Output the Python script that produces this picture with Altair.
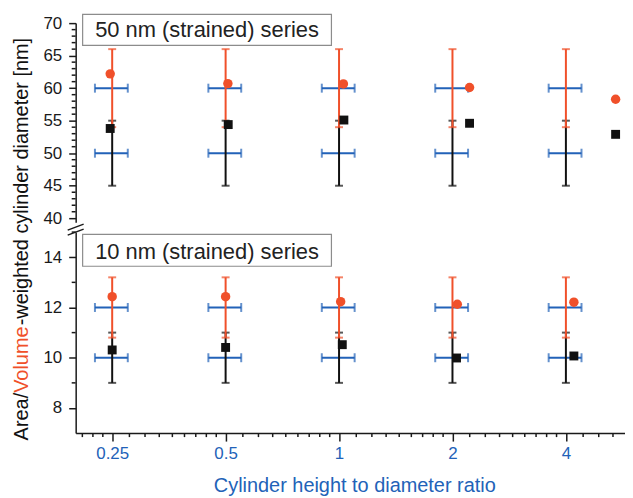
import altair as alt
import pandas as pd

# ---------------- data ----------------
ratio = [0.25, 0.5, 1, 2, 4]                 # nominal height/diameter ratio
ratio_lo = [0.225, 0.45, 0.9, 1.8, 3.6]      # blue horizontal bar ends
ratio_hi = [0.275, 0.55, 1.1, 2.2, 4.4]

# 50 nm (strained) series
s50_vol_x = [0.247, 0.507, 1.027, 2.22, 5.42]
s50_vol_y = [62.2, 60.7, 60.65, 60.1, 58.3]
s50_area_x = [0.247, 0.508, 1.03, 2.22, 5.42]
s50_area_y = [53.8, 54.4, 55.1, 54.6, 52.9]
s50_vol_lo = [54, 54, 54, 54, 54]
s50_vol_hi = [66, 66, 66, 66, 66]
s50_area_lo = [45, 45, 45, 45, 45]
s50_area_hi = [55, 55, 55, 55, 55]
s50_nominal = [60, 50]

# 10 nm (strained) series
s10_vol_x = [0.25, 0.5, 1.01, 2.06, 4.2]
s10_vol_y = [12.43, 12.43, 12.23, 12.13, 12.21]
s10_area_x = [0.25, 0.5, 1.02, 2.05, 4.2]
s10_area_y = [10.31, 10.41, 10.52, 9.99, 10.07]
s10_vol_lo = [10.8, 10.8, 10.8, 10.8, 10.8]
s10_vol_hi = [13.2, 13.2, 13.2, 13.2, 13.2]
s10_area_lo = [9, 9, 9, 9, 9]
s10_area_hi = [11, 11, 11, 11, 11]
s10_nominal = [12, 10]

x_ticks = [0.25, 0.5, 1, 2, 4]
top_yticks = [40, 45, 50, 55, 60, 65, 70]
bot_yticks = [8, 10, 12, 14]

# ---------------- style ----------------
RED = "#F0502A"
BLUE = "#2262B8"
BLACK = "#111111"
AX = "#1a1a1a"
FONT = "Liberation Sans"
W = 552
H_TOP = 200
H_BOT = 202
X_DOMAIN = [0.2, 5.74]

xscale = alt.Scale(type="log", base=2, domain=X_DOMAIN, nice=False)

x_minor = [m * (1 + k / 9) for m in [0.125, 0.25, 0.5, 1, 2, 4] for k in range(1, 9)]
x_minor = [v for v in x_minor if X_DOMAIN[0] <= v <= X_DOMAIN[1]]


def panel(vol_x, vol_y, area_x, area_y, vol_lo, vol_hi, area_lo, area_hi,
          nominal, ydomain, yticks, yminor, height, label, box_y, text_y, bottom):
    yscale = alt.Scale(domain=ydomain, nice=False, zero=False)
    yaxis = alt.Axis(values=yticks, tickSize=7, labelPadding=7, labelFontSize=17,
                     labelFont=FONT, labelColor=AX, domainColor=AX, tickColor=AX,
                     domainWidth=1.5, tickWidth=1.5, grid=False, title=None)
    if bottom:
        xaxis = alt.Axis(values=x_ticks, format="~g", tickSize=8, labelPadding=5,
                         labelFontSize=17, labelFont=FONT, labelColor=BLUE,
                         domainColor=AX, tickColor=AX, domainWidth=1.5, tickWidth=1.5,
                         grid=False, labelFlush=False,
                         title="Cylinder height to diameter ratio", titleColor=BLUE,
                         titleFont=FONT, titleFontSize=20, titleFontWeight="normal",
                         titleX=280, titleY=59, titleBaseline="alphabetic")
    else:
        xaxis = None

    def X(field):
        return alt.X(field, type="quantitative", scale=xscale, axis=xaxis)

    def Y(field):
        return alt.Y(field, type="quantitative", scale=yscale, axis=yaxis)

    # blue horizontal bars
    blue_rows = []
    for lvl in nominal:
        for r, lo, hi in zip(ratio, ratio_lo, ratio_hi):
            blue_rows.append({"r": r, "lo": lo, "hi": hi, "y": lvl})
    blue_df = pd.DataFrame(blue_rows)
    layers = [
        alt.Chart(blue_df).mark_rule(color=BLUE, strokeWidth=2).encode(
            x=X("lo"), x2="hi", y=Y("y")),
        alt.Chart(blue_df).mark_tick(color=BLUE, orient="vertical", size=9, thickness=2).encode(
            x=X("lo"), y=Y("y")),
        alt.Chart(blue_df).mark_tick(color=BLUE, orient="vertical", size=9, thickness=2).encode(
            x=X("hi"), y=Y("y")),
    ]

    # vertical error bars
    for lo, hi, col in [(area_lo, area_hi, BLACK), (vol_lo, vol_hi, RED)]:
        df = pd.DataFrame({"r": ratio, "lo": lo, "hi": hi})
        layers.append(alt.Chart(df).mark_rule(color=col, strokeWidth=2).encode(
            x=X("r"), y=Y("lo"), y2="hi"))
        for f in ["lo", "hi"]:
            layers.append(alt.Chart(df).mark_tick(color=col, orient="horizontal", size=8,
                                                  thickness=2).encode(x=X("r"), y=Y(f)))

    # points
    vol_df = pd.DataFrame({"x": vol_x, "y": vol_y})
    area_df = pd.DataFrame({"x": area_x, "y": area_y})
    layers.append(alt.Chart(area_df).mark_point(shape="square", filled=True, size=80,
                                                 color=BLACK, opacity=1).encode(
        x=X("x"), y=Y("y")))
    layers.append(alt.Chart(vol_df).mark_point(shape="circle", filled=True, size=90,
                                                color=RED, opacity=1).encode(
        x=X("x"), y=Y("y")))

    # minor ticks on y
    ym_df = pd.DataFrame({"v": yminor})
    layers.append(alt.Chart(ym_df).mark_rule(color=AX, strokeWidth=1.5).encode(
        y=Y("v"), x=alt.value(0), x2=alt.value(-4)))
    if bottom:
        xm_df = pd.DataFrame({"v": x_minor})
        layers.append(alt.Chart(xm_df).mark_rule(color=AX, strokeWidth=1.5).encode(
            x=X("v"), y=alt.value(height), y2=alt.value(height + 4)))

    # label box
    lab_df = pd.DataFrame({"t": [label]})
    layers.append(alt.Chart(lab_df).mark_rect(fill="white", stroke="#8c8c8c", strokeWidth=1.2).encode(
        x=alt.value(7), x2=alt.value(257), y=alt.value(box_y[0]), y2=alt.value(box_y[1])))
    layers.append(alt.Chart(lab_df).mark_text(fontSize=22, font=FONT, color="#222222",
                                              align="center", baseline="alphabetic").encode(
        x=alt.value(132), y=alt.value(text_y), text="t:N"))
    return layers


top_minor = [v for v in range(40, 71) if v % 5 != 0]
bot_minor = [9, 11, 13, 15]

top_layers = panel(s50_vol_x, s50_vol_y, s50_area_x, s50_area_y, s50_vol_lo, s50_vol_hi,
                   s50_area_lo, s50_area_hi, s50_nominal, [39.4, 70], top_yticks, top_minor,
                   H_TOP, "50 nm (strained) series", (-8.7, 22.3), 14.3, False)

# axis break marks
brk_df = pd.DataFrame({"k": ["a"]})
top_layers.append(alt.Chart(brk_df).mark_rule(color=AX, strokeWidth=1.5).encode(
    x=alt.value(-8), x2=alt.value(8), y=alt.value(H_TOP + 8), y2=alt.value(H_TOP + 2)))
top_layers.append(alt.Chart(brk_df).mark_rule(color=AX, strokeWidth=1.5).encode(
    x=alt.value(-8), x2=alt.value(8), y=alt.value(H_TOP + 13), y2=alt.value(H_TOP + 7)))

bot_layers = panel(s10_vol_x, s10_vol_y, s10_area_x, s10_area_y, s10_vol_lo, s10_vol_hi,
                   s10_area_lo, s10_area_hi, s10_nominal, [7, 15], bot_yticks, bot_minor,
                   H_BOT, "10 nm (strained) series", (2.3, 34.3), 27, True)

# multi-coloured y-axis title
title_parts = [("Area/", BLACK, 209.3), ("Volume", RED, 161.5),
               ("-weighted cylinder diameter [nm]", BLACK, 93.7)]
for txt, col, ypos in title_parts:
    bot_layers.append(alt.Chart(pd.DataFrame({"t": [txt]})).mark_text(
        angle=270, align="left", baseline="alphabetic", fontSize=20, font=FONT, color=col
    ).encode(x=alt.value(-48), y=alt.value(ypos), text="t:N"))

top = alt.layer(*top_layers).properties(width=W, height=H_TOP)
bot = alt.layer(*bot_layers).properties(width=W, height=H_BOT)

chart = alt.vconcat(top, bot, spacing=10, bounds="flush").resolve_scale(
    y="independent"
).properties(
    padding={"left": 3, "top": 4, "right": 0, "bottom": 0}
).configure_view(strokeWidth=0)

chart.save("out.html", embed_options={"renderer": "svg", "actions": False})
